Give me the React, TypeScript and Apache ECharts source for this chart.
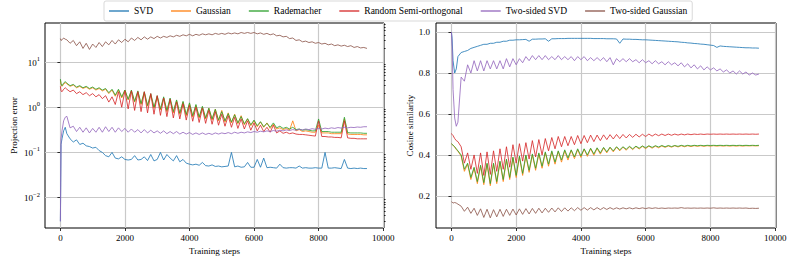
import React, { useEffect, useRef } from "react";
import * as echarts from "echarts";

const SERIES_NAMES = ["SVD", "Gaussian", "Rademacher", "Random Semi-orthogonal", "Two-sided SVD", "Two-sided Gaussian"];
const COLORS = ["#1f77b4", "#ff7f0e", "#2ca02c", "#d62728", "#9467bd", "#8c564b"];

const X_TICKS = [0, 2000, 4000, 6000, 8000, 10000];
const LOG_TICKS = [0.01, 0.1, 1, 10];
const LOG_MINOR_TICKS = [0.003, 0.004, 0.005, 0.006, 0.007, 0.008, 0.009,
  0.02, 0.03, 0.04, 0.05, 0.06, 0.07, 0.08, 0.09,
  0.2, 0.3, 0.4, 0.5, 0.6, 0.7, 0.8, 0.9,
  2, 3, 4, 5, 6, 7, 8, 9, 20, 30, 40, 50, 60, 70];
const COS_TICKS = [0.2, 0.4, 0.6, 0.8, 1.0];

const STEPS = [0, 20, 50, 100, 150,
  200, 300, 400, 500, 600, 700, 800, 900, 1000, 1100,
  1200, 1300, 1400, 1500, 1600, 1700, 1800, 1900, 2000, 2100,
  2200, 2300, 2400, 2500, 2600, 2700, 2800, 2900, 3000, 3100,
  3200, 3300, 3400, 3500, 3600, 3700, 3800, 3900, 4000, 4100,
  4200, 4300, 4400, 4500, 4600, 4700, 4800, 4900, 5000, 5100,
  5200, 5300, 5400, 5500, 5600, 5700, 5800, 5900, 6000, 6100,
  6200, 6300, 6400, 6500, 6600, 6700, 6800, 6900, 7000, 7100,
  7200, 7300, 7400, 7500, 7600, 7700, 7800, 7900, 8000, 8100,
  8200, 8300, 8400, 8500, 8600, 8700, 8800, 8900, 9000, 9100,
  9200, 9300, 9400, 9500];

// ---- Projection error (left) ----
const L_SVD = [0.003, 0.15, 0.2, 0.3, 0.36,
  0.26, 0.2, 0.17, 0.19, 0.15, 0.16, 0.14, 0.135, 0.125, 0.13,
  0.11, 0.1, 0.085, 0.08, 0.1, 0.075, 0.072, 0.08, 0.07, 0.068,
  0.07, 0.085, 0.068, 0.07, 0.08, 0.066, 0.09, 0.065, 0.07, 0.1,
  0.068, 0.09, 0.075, 0.065, 0.085, 0.062, 0.07, 0.058, 0.055, 0.053,
  0.055, 0.052, 0.06, 0.051, 0.05, 0.053, 0.049, 0.05, 0.048, 0.049,
  0.05, 0.1, 0.048, 0.05, 0.047, 0.048, 0.06, 0.047, 0.047, 0.07,
  0.047, 0.075, 0.046, 0.047, 0.046, 0.045, 0.055, 0.046, 0.045, 0.046,
  0.046, 0.045, 0.05, 0.045, 0.046, 0.045, 0.045, 0.046, 0.045, 0.045,
  0.1, 0.045, 0.045, 0.046, 0.045, 0.044, 0.07, 0.045, 0.044, 0.045,
  0.044, 0.045, 0.044, 0.044];
const L_GAU = [4.0, 3.2, 2.9, 3.2, 3.5,
  3.3, 2.9, 3.1, 2.7, 2.9, 2.6, 2.8, 2.5, 2.7, 2.4,
  2.6, 2.3, 2.5, 2.0, 2.4, 1.75, 2.4, 1.6, 2.4, 1.45,
  2.3, 1.3, 2.2, 1.15, 2.1, 1.05, 1.9, 0.95, 1.7, 0.87,
  1.6, 0.8, 1.5, 0.75, 1.4, 0.7, 1.3, 0.65, 1.2, 0.61,
  1.1, 0.58, 1.0, 0.55, 0.95, 0.52, 0.9, 0.5, 0.85, 0.47,
  0.75, 0.45, 0.7, 0.43, 0.65, 0.41, 0.55, 0.39, 0.5, 0.37,
  0.47, 0.36, 0.45, 0.34, 0.42, 0.33, 0.35, 0.32, 0.34, 0.31,
  0.5, 0.3, 0.32, 0.29, 0.3, 0.29, 0.28, 0.28, 0.4, 0.27,
  0.27, 0.27, 0.26, 0.26, 0.26, 0.26, 0.55, 0.255, 0.25, 0.25,
  0.25, 0.25, 0.245, 0.245];
const L_RAD = [4.2, 3.3, 3.0, 3.4, 3.7,
  3.4, 3.0, 3.2, 2.8, 3.0, 2.7, 2.9, 2.6, 2.8, 2.5,
  2.7, 2.4, 2.6, 2.1, 2.5, 1.85, 2.5, 1.7, 2.4, 1.5,
  2.4, 1.35, 2.3, 1.2, 2.2, 1.1, 2.0, 1.0, 1.8, 0.92,
  1.7, 0.85, 1.6, 0.8, 1.45, 0.74, 1.35, 0.69, 1.25, 0.65,
  1.15, 0.61, 1.05, 0.58, 0.95, 0.55, 0.9, 0.52, 0.8, 0.5,
  0.72, 0.47, 0.68, 0.45, 0.62, 0.43, 0.56, 0.41, 0.52, 0.39,
  0.48, 0.37, 0.44, 0.36, 0.45, 0.35, 0.38, 0.34, 0.36, 0.33,
  0.36, 0.32, 0.33, 0.31, 0.32, 0.31, 0.3, 0.3, 0.55, 0.29,
  0.29, 0.29, 0.28, 0.28, 0.28, 0.28, 0.6, 0.275, 0.27, 0.27,
  0.27, 0.27, 0.265, 0.265];
const L_RSO = [2.9, 2.3, 2.2, 2.5, 2.7,
  2.5, 2.2, 2.4, 2.0, 2.2, 1.9, 2.1, 1.8, 2.0, 1.7,
  1.9, 1.55, 1.8, 1.3, 1.7, 1.15, 2.2, 1.0, 2.3, 0.92,
  2.3, 0.85, 2.2, 0.8, 2.2, 0.75, 2.0, 0.7, 1.8, 0.66,
  1.6, 0.62, 1.5, 0.58, 1.3, 0.55, 1.2, 0.52, 1.1, 0.49,
  1.0, 0.46, 0.95, 0.44, 0.85, 0.42, 0.8, 0.4, 0.7, 0.38,
  0.65, 0.36, 0.6, 0.34, 0.55, 0.33, 0.5, 0.31, 0.45, 0.3,
  0.4, 0.29, 0.36, 0.28, 0.4, 0.27, 0.3, 0.265, 0.28, 0.26,
  0.27, 0.255, 0.25, 0.25, 0.245, 0.24, 0.235, 0.23, 0.5, 0.225,
  0.225, 0.22, 0.22, 0.215, 0.215, 0.21, 0.5, 0.21, 0.205, 0.205,
  0.2, 0.2, 0.2, 0.2];
const L_TSVD = [0.003, 0.2, 0.3, 0.5, 0.6,
  0.63, 0.35, 0.38, 0.29, 0.36, 0.28, 0.35, 0.27, 0.34, 0.28,
  0.36, 0.28, 0.37, 0.29, 0.36, 0.28, 0.35, 0.29, 0.34, 0.28,
  0.33, 0.28, 0.32, 0.27, 0.32, 0.27, 0.31, 0.27, 0.3, 0.265,
  0.3, 0.26, 0.29, 0.26, 0.29, 0.255, 0.28, 0.255, 0.275, 0.25,
  0.27, 0.25, 0.27, 0.25, 0.265, 0.25, 0.27, 0.255, 0.27, 0.26,
  0.275, 0.26, 0.28, 0.265, 0.28, 0.27, 0.285, 0.275, 0.29, 0.28,
  0.295, 0.285, 0.3, 0.29, 0.305, 0.295, 0.31, 0.3, 0.315, 0.305,
  0.32, 0.31, 0.325, 0.315, 0.33, 0.32, 0.335, 0.325, 0.34, 0.33,
  0.345, 0.335, 0.35, 0.34, 0.355, 0.345, 0.36, 0.35, 0.36, 0.355,
  0.365, 0.36, 0.37, 0.37];
const L_TSG = [33, 30, 31, 34, 32,
  31, 26, 30, 23, 28, 20, 26, 19, 25, 21,
  27, 22, 28, 24, 30, 25, 31, 27, 32, 28,
  34, 30, 35, 31, 36, 32, 36, 33, 37, 34,
  37, 35, 38, 36, 39, 37, 40, 38, 41, 38,
  41, 39, 42, 40, 42, 40, 43, 41, 43, 41,
  44, 42, 44, 42, 45, 43, 45, 43, 45, 42,
  44, 41, 43, 40, 42, 38, 39, 36, 37, 33,
  34, 30, 31, 28, 29, 27, 28, 26, 27, 25,
  26, 24, 25, 23, 24, 22.5, 23.5, 22, 23, 21,
  22, 20.5, 21, 20];

// ---- Cosine similarity (right) ----
const R_SVD = [1.0, 0.97, 0.86, 0.8, 0.82,
  0.88, 0.9, 0.905, 0.91, 0.92, 0.925, 0.93, 0.935, 0.94, 0.94,
  0.945, 0.945, 0.95, 0.95, 0.955, 0.955, 0.96, 0.96, 0.962, 0.962,
  0.963, 0.964, 0.955, 0.965, 0.965, 0.966, 0.966, 0.967, 0.955, 0.967,
  0.967, 0.968, 0.968, 0.968, 0.969, 0.969, 0.969, 0.969, 0.969, 0.969,
  0.969, 0.969, 0.968, 0.968, 0.968, 0.968, 0.967, 0.967, 0.967, 0.966,
  0.945, 0.966, 0.965, 0.965, 0.964, 0.964, 0.963, 0.962, 0.962, 0.961,
  0.96, 0.959, 0.958, 0.957, 0.956, 0.955, 0.954, 0.953, 0.952, 0.95,
  0.949, 0.947, 0.946, 0.944, 0.943, 0.941, 0.94, 0.938, 0.936, 0.934,
  0.925, 0.932, 0.93, 0.929, 0.928, 0.927, 0.926, 0.925, 0.924, 0.923,
  0.923, 0.922, 0.922, 0.921];
const R_GAU = [0.455, 0.452, 0.447, 0.438, 0.427,
  0.418, 0.395, 0.32, 0.355, 0.28, 0.335, 0.26, 0.345, 0.255, 0.355,
  0.25, 0.355, 0.26, 0.365, 0.27, 0.375, 0.28, 0.385, 0.29, 0.39,
  0.3, 0.395, 0.315, 0.4, 0.325, 0.405, 0.335, 0.41, 0.345, 0.415,
  0.355, 0.417, 0.365, 0.42, 0.375, 0.422, 0.382, 0.426, 0.388, 0.428,
  0.393, 0.43, 0.398, 0.432, 0.404, 0.434, 0.41, 0.436, 0.415, 0.438,
  0.42, 0.438, 0.423, 0.44, 0.426, 0.441, 0.429, 0.442, 0.431, 0.443,
  0.433, 0.443, 0.435, 0.444, 0.437, 0.444, 0.438, 0.445, 0.439, 0.445,
  0.44, 0.445, 0.441, 0.445, 0.442, 0.445, 0.442, 0.445, 0.443, 0.445,
  0.443, 0.445, 0.443, 0.445, 0.443, 0.445, 0.443, 0.445, 0.443, 0.445,
  0.444, 0.445, 0.444, 0.445];
const R_RAD = [0.455, 0.452, 0.448, 0.44, 0.43,
  0.42, 0.4, 0.33, 0.36, 0.29, 0.34, 0.27, 0.35, 0.265, 0.36,
  0.26, 0.36, 0.27, 0.37, 0.28, 0.38, 0.29, 0.39, 0.3, 0.395,
  0.31, 0.4, 0.325, 0.405, 0.335, 0.41, 0.345, 0.415, 0.355, 0.42,
  0.365, 0.42, 0.375, 0.425, 0.385, 0.425, 0.39, 0.43, 0.395, 0.43,
  0.4, 0.433, 0.405, 0.435, 0.41, 0.437, 0.415, 0.438, 0.42, 0.44,
  0.425, 0.44, 0.428, 0.442, 0.43, 0.443, 0.433, 0.444, 0.435, 0.445,
  0.437, 0.445, 0.439, 0.446, 0.44, 0.446, 0.441, 0.446, 0.442, 0.447,
  0.443, 0.447, 0.444, 0.447, 0.445, 0.447, 0.445, 0.447, 0.446, 0.447,
  0.446, 0.447, 0.446, 0.447, 0.446, 0.447, 0.446, 0.447, 0.446, 0.447,
  0.446, 0.447, 0.446, 0.447];
const R_RSO = [0.505, 0.5, 0.495, 0.48, 0.47,
  0.465, 0.44, 0.36, 0.41, 0.33, 0.4, 0.31, 0.41, 0.3, 0.415,
  0.305, 0.42, 0.32, 0.43, 0.33, 0.44, 0.34, 0.45, 0.36, 0.455,
  0.37, 0.46, 0.38, 0.47, 0.39, 0.475, 0.4, 0.48, 0.42, 0.485,
  0.43, 0.49, 0.44, 0.49, 0.445, 0.49, 0.45, 0.495, 0.455, 0.495,
  0.46, 0.497, 0.465, 0.497, 0.47, 0.498, 0.475, 0.499, 0.478, 0.5,
  0.48, 0.5, 0.483, 0.5, 0.486, 0.501, 0.488, 0.501, 0.49, 0.502,
  0.492, 0.502, 0.494, 0.502, 0.495, 0.502, 0.496, 0.502, 0.497, 0.502,
  0.498, 0.502, 0.499, 0.502, 0.5, 0.502, 0.5, 0.502, 0.501, 0.502,
  0.501, 0.502, 0.501, 0.502, 0.501, 0.502, 0.501, 0.502, 0.501, 0.502,
  0.501, 0.502, 0.501, 0.502];
const R_TSVD = [1.0, 0.93, 0.72, 0.58, 0.54,
  0.56, 0.78, 0.76, 0.84, 0.8, 0.86, 0.81, 0.86, 0.81, 0.86,
  0.82, 0.86, 0.82, 0.86, 0.82, 0.87, 0.83, 0.87, 0.84, 0.87,
  0.85, 0.88, 0.86, 0.885, 0.865, 0.885, 0.865, 0.885, 0.865, 0.88,
  0.865, 0.885, 0.865, 0.88, 0.865, 0.88, 0.86, 0.88, 0.865, 0.88,
  0.86, 0.875, 0.86, 0.875, 0.86, 0.875, 0.855, 0.875, 0.84, 0.87,
  0.855, 0.87, 0.855, 0.87, 0.855, 0.865, 0.85, 0.865, 0.85, 0.86,
  0.845, 0.86, 0.845, 0.855, 0.84, 0.855, 0.84, 0.85, 0.835, 0.85,
  0.83, 0.845, 0.825, 0.84, 0.82, 0.835, 0.815, 0.83, 0.815, 0.825,
  0.81, 0.82, 0.805, 0.815, 0.8, 0.81, 0.795, 0.81, 0.795, 0.805,
  0.79, 0.8, 0.79, 0.795];
const R_TSG = [0.172, 0.17, 0.165, 0.168, 0.165,
  0.16, 0.15, 0.125, 0.145, 0.115, 0.14, 0.105, 0.137, 0.095, 0.135,
  0.093, 0.133, 0.098, 0.135, 0.1, 0.135, 0.105, 0.136, 0.107, 0.137,
  0.11, 0.138, 0.112, 0.139, 0.115, 0.14, 0.117, 0.14, 0.12, 0.141,
  0.122, 0.142, 0.124, 0.142, 0.126, 0.142, 0.128, 0.143, 0.13, 0.143,
  0.131, 0.143, 0.132, 0.143, 0.133, 0.143, 0.134, 0.143, 0.135, 0.142,
  0.136, 0.142, 0.137, 0.142, 0.137, 0.142, 0.138, 0.142, 0.138, 0.142,
  0.139, 0.142, 0.139, 0.141, 0.139, 0.141, 0.14, 0.141, 0.14, 0.143,
  0.14, 0.141, 0.14, 0.141, 0.14, 0.141, 0.14, 0.141, 0.14, 0.142,
  0.14, 0.141, 0.14, 0.141, 0.14, 0.141, 0.14, 0.141, 0.14, 0.141,
  0.139, 0.14, 0.139, 0.14];

const LEFT = [L_SVD, L_GAU, L_RAD, L_RSO, L_TSVD, L_TSG];
const RIGHT = [R_SVD, R_GAU, R_RAD, R_RSO, R_TSVD, R_TSG];

const FONT = "'Liberation Serif', 'Times New Roman', serif";

export default function App() {
  const ref = useRef<HTMLDivElement>(null);
  useEffect(() => {
    document.body.style.margin = "0";
    const chart = echarts.init(ref.current!, null, { renderer: "svg" });
    const txt = { fontFamily: FONT, fontSize: 9, color: "#000" };
    const gridLine = { show: true, lineStyle: { color: "#c9c9c9", width: 1.2 } };
    const tickStyle = { lineStyle: { color: "#000", width: 0.8 } };
    const xAxisBase = (gi: number) => ({
      gridIndex: gi, type: "value", min: -477, max: 10027,
      name: "Training steps", nameLocation: "middle", nameGap: 17, nameTextStyle: txt,
      axisLine: { show: false },
      axisTick: { show: true, length: 3, customValues: X_TICKS, ...tickStyle },
      axisLabel: { customValues: X_TICKS, margin: 5, ...txt, formatter: (v: number) => String(v) },
      splitLine: gridLine,
    });
    const mkSeries = (arr: number[][], xi: number, yi: number) =>
      arr.map((vals, k) => ({
        name: SERIES_NAMES[k], type: "line", xAxisIndex: xi, yAxisIndex: yi,
        data: STEPS.map((s, i) => [s, vals[i]]),
        showSymbol: false, symbol: "none",
        lineStyle: { color: COLORS[k], width: 1, opacity: 0.82 },
        itemStyle: { color: COLORS[k] },
        z: 2 + k,
      }));
    const option: any = {
      animation: false,
      legend: {
        data: SERIES_NAMES, top: 1, left: 104, icon: "rect", itemWidth: 20, itemHeight: 1.3,
        itemGap: 18, padding: [5, 5, 5, 5], borderColor: "#cfcfcf", borderWidth: 0.8, borderRadius: 2,
        textStyle: { ...txt, fontSize: 9.5 },
      },
      grid: [
        { left: 45, top: 23, width: 339, height: 205, show: true, borderColor: "#000", borderWidth: 1, backgroundColor: "transparent" },
        { left: 436, top: 23, width: 340, height: 205, show: true, borderColor: "#000", borderWidth: 1, backgroundColor: "transparent" },
      ],
      xAxis: [xAxisBase(0), xAxisBase(1)],
      yAxis: [
        {
          gridIndex: 0, type: "log", logBase: 10, min: 0.00213, max: 73,
          name: "Projection error", nameLocation: "middle", nameGap: 27, nameTextStyle: txt,
          axisLine: { show: false },
          axisTick: { show: true, length: 3, customValues: LOG_TICKS, ...tickStyle },
          axisLabel: {
            customValues: LOG_TICKS, margin: 5, ...txt,
            formatter: (v: number) => {
              const e = Math.round(Math.log10(v));
              return "{b|10}{sup|" + (e < 0 ? "\u2212" + -e : String(e)) + "}";
            },
            rich: {
              b: { fontFamily: FONT, fontSize: 9, color: "#000", verticalAlign: "bottom", lineHeight: 10 },
              sup: { fontFamily: FONT, fontSize: 6.5, color: "#000", verticalAlign: "bottom", lineHeight: 10, padding: [0, 0, 5, 0] },
            },
          },
          splitLine: gridLine,
        },
        {
          gridIndex: 0, type: "log", logBase: 10, min: 0.00213, max: 73,
          axisLine: { show: false },
          axisTick: { show: true, length: 1.6, customValues: LOG_MINOR_TICKS, ...tickStyle },
          axisLabel: { show: false },
          splitLine: { show: false },
        },
        {
          gridIndex: 1, type: "value", min: 0.0435, max: 1.044,
          name: "Cosine similarity", nameLocation: "middle", nameGap: 21, nameTextStyle: txt,
          axisLine: { show: false },
          axisTick: { show: true, length: 3, customValues: COS_TICKS, ...tickStyle },
          axisLabel: { customValues: COS_TICKS, margin: 6, ...txt, formatter: (v: number) => v.toFixed(1) },
          splitLine: gridLine,
        },
      ],
      series: [...mkSeries(LEFT, 0, 0), ...mkSeries(RIGHT, 1, 2)],
    };
    chart.setOption(option);
    return () => chart.dispose();
  }, []);
  return <div ref={ref} style={{ width: 797, height: 266 }} />;
}
